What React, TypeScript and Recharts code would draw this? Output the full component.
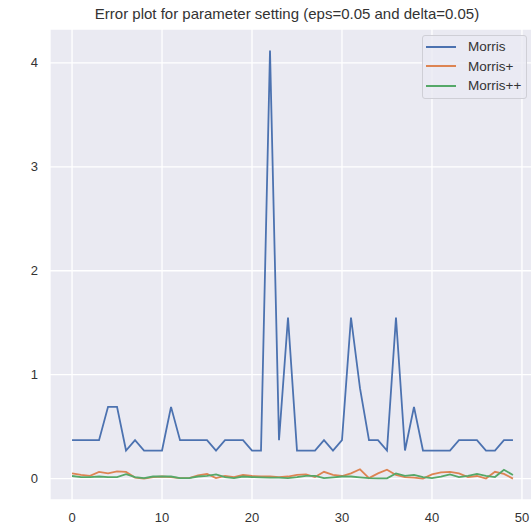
import { LineChart, Line, XAxis, YAxis, CartesianGrid } from 'recharts';

const morris = [
  0.37, 0.37, 0.37, 0.37, 0.69, 0.69, 0.27, 0.37, 0.27, 0.27,
  0.27, 0.69, 0.37, 0.37, 0.37, 0.37, 0.27, 0.37, 0.37, 0.37,
  0.27, 0.27, 4.12, 0.37, 1.55, 0.27, 0.27, 0.27, 0.37, 0.27,
  0.37, 1.55, 0.87, 0.37, 0.37, 0.27, 1.55, 0.27, 0.69, 0.27,
  0.27, 0.27, 0.27, 0.37, 0.37, 0.37, 0.27, 0.27, 0.37, 0.37,
];
const morrisPlus = [
  0.05, 0.035, 0.027, 0.064, 0.05, 0.07, 0.064, 0.01, 0.0, 0.015,
  0.02, 0.015, 0.005, 0.005, 0.03, 0.045, 0.005, 0.025, 0.015, 0.035,
  0.025, 0.022, 0.02, 0.015, 0.02, 0.035, 0.04, 0.015, 0.065, 0.035,
  0.025, 0.05, 0.09, 0.005, 0.05, 0.085, 0.035, 0.015, 0.01, 0.0,
  0.04, 0.06, 0.065, 0.05, 0.015, 0.025, 0.0, 0.065, 0.045, 0.0,
];
const morrisPlusPlus = [
  0.025, 0.015, 0.015, 0.02, 0.015, 0.015, 0.043, 0.015, 0.005, 0.02,
  0.02, 0.02, 0.005, 0.005, 0.02, 0.027, 0.04, 0.015, 0.005, 0.02,
  0.015, 0.012, 0.01, 0.01, 0.005, 0.015, 0.027, 0.027, 0.005, 0.012,
  0.02, 0.02, 0.012, 0.005, 0.003, 0.003, 0.05, 0.027, 0.035, 0.015,
  0.005, 0.02, 0.04, 0.015, 0.027, 0.045, 0.027, 0.015, 0.085, 0.035,
];
const xTicks = [0, 10, 20, 30, 40, 50];
const yTicks = [0, 1, 2, 3, 4];

const series = [
  { key: 'morris', name: 'Morris', color: '#4c72b0' },
  { key: 'morrisPlus', name: 'Morris+', color: '#dd8452' },
  { key: 'morrisPlusPlus', name: 'Morris++', color: '#55a868' },
];

const data = morris.map((v, i) => ({
  i,
  morris: v,
  morrisPlus: morrisPlus[i],
  morrisPlusPlus: morrisPlusPlus[i],
}));

const font = 'Arial, "Liberation Sans", Helvetica, sans-serif';

// legend drawn as plain html over the plot, so it doesn't eat chart space
function LegendBox() {
  return (
    <div
      style={{
        position: 'absolute',
        left: 422,
        top: 35,
        width: 105,
        height: 64,
        boxSizing: 'border-box',
        border: '1px solid #cfcfd6',
        borderRadius: 3,
        background: 'rgba(234,234,242,0.8)',
        fontFamily: font,
        fontSize: 13.5,
        color: '#333',
        paddingTop: 1,
      }}
    >
      {series.map((s) => (
        <div key={s.key} style={{ display: 'flex', alignItems: 'center', height: 19.5 }}>
          <div style={{ width: 30, height: 2, background: s.color, marginLeft: 3, marginRight: 12 }} />
          <span>{s.name}</span>
        </div>
      ))}
    </div>
  );
}

export default function App() {
  return (
    <div style={{ position: 'absolute', left: 0, top: 0, width: 531, height: 525, overflow: 'hidden', background: '#fff' }}>
      <div
        style={{
          position: 'absolute',
          left: 0,
          width: 574,
          top: 5,
          textAlign: 'center',
          fontFamily: font,
          fontSize: 15,
          color: '#333',
        }}
      >
        Error plot for parameter setting (eps=0.05 and delta=0.05)
      </div>
      <LineChart width={535} height={525} data={data} margin={{ top: 29, right: 0, bottom: 0, left: 0 }}>
        <CartesianGrid fill="#eaeaf2" stroke="#ffffff" strokeWidth={1.3} />
        <XAxis
          dataKey="i"
          type="number"
          domain={[-2.45, 51.45]}
          ticks={xTicks}
          axisLine={false}
          tickLine={false}
          tickSize={0}
          tickMargin={13}
          height={25}
          tick={{ fill: '#333', fontSize: 13, fontFamily: font }}
          allowDataOverflow
        />
        <YAxis
          type="number"
          domain={[-0.206, 4.326]}
          ticks={yTicks}
          axisLine={false}
          tickLine={false}
          tickSize={0}
          tickMargin={12}
          width={50}
          tick={{ fill: '#333', fontSize: 13, fontFamily: font }}
          allowDataOverflow
        />
        {series.map((s) => (
          <Line
            key={s.key}
            dataKey={s.key}
            name={s.name}
            stroke={s.color}
            strokeWidth={1.8}
            dot={false}
            type="linear"
            isAnimationActive={false}
          />
        ))}
      </LineChart>
      <LegendBox />
    </div>
  );
}
